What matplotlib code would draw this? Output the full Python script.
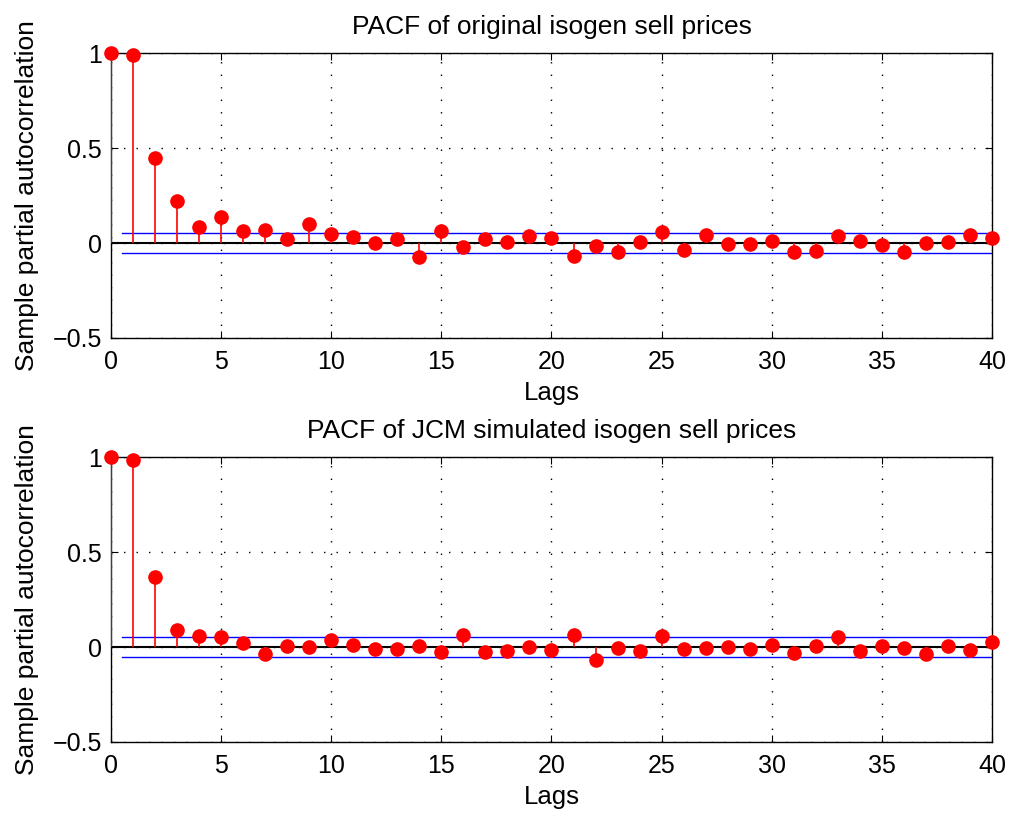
import matplotlib.pyplot as plt
import numpy as np

plt.rcParams['font.family'] = ['Liberation Sans', 'DejaVu Sans']

lags = np.arange(41)

# PACF values
pacf_orig = [1.0, 0.99, 0.449, 0.223, 0.086, 0.135, 0.065, 0.068, 0.019, 0.098,
             0.047, 0.030, 0.002, 0.019, -0.075, 0.063, -0.019, 0.023, 0.004, 0.039,
             0.025, -0.067, -0.018, -0.046, 0.004, 0.056, -0.039, 0.040, -0.004, -0.007,
             0.012, -0.049, -0.044, 0.037, 0.012, -0.012, -0.049, 0.002, 0.005, 0.044,
             0.028]
pacf_sim = [1.0, 0.985, 0.368, 0.088, 0.056, 0.053, 0.019, -0.034, 0.007, -0.002,
            0.035, 0.011, -0.012, -0.010, 0.004, -0.028, 0.061, -0.026, -0.019, 0.002,
            -0.018, 0.061, -0.067, -0.005, -0.021, 0.058, -0.011, -0.007, 0.000, -0.009,
            0.009, -0.030, 0.007, 0.054, -0.021, 0.004, -0.005, -0.035, 0.005, -0.018,
            0.026]
bound = 0.0527

titles = ["PACF of original isogen sell prices",
          "PACF of JCM simulated isogen sell prices"]

fig = plt.figure(figsize=(10.16, 8.16), dpi=100)
ax1 = fig.add_axes([0.1093, 0.5858, 0.867, 0.349])
ax2 = fig.add_axes([0.1093, 0.0907, 0.867, 0.349])

for ax, vals, title in zip([ax1, ax2], [pacf_orig, pacf_sim], titles):
    ax.vlines(lags, 0, vals, color='red', lw=1.2, zorder=3)
    ax.plot(lags, vals, 'o', color='red', ms=9.5, zorder=4, clip_on=False)
    ax.plot([0, 40], [0, 0], color='black', lw=1.5, zorder=2)
    ax.plot([0.5, 40], [bound, bound], color='blue', lw=1.0, zorder=2)
    ax.plot([0.5, 40], [-bound, -bound], color='blue', lw=1.0, zorder=2)
    ax.set_xlim(0, 40)
    ax.set_ylim(-0.5, 1)
    ax.set_xticks(range(0, 41, 5))
    ax.set_yticks([-0.5, 0, 0.5, 1])
    ax.set_yticklabels(['\u22120.5', '0', '0.5', '1'])
    ax.grid(True, color='black', linestyle=(0, (1, 8)), lw=1.0)
    ax.tick_params(direction='in', length=5, labelsize=18, top=True, right=True)
    ax.tick_params(axis='x', pad=9)
    ax.tick_params(axis='y', pad=6.5)
    for s in ax.spines.values():
        s.set_linewidth(1.0)
    ax.set_title(title, fontsize=19, pad=14)
    ax.set_xlabel("Lags", fontsize=18.5, labelpad=5)
    ax.set_ylabel("Sample partial autocorrelation", fontsize=19, labelpad=10)

fig.savefig("out.png", dpi=100)
